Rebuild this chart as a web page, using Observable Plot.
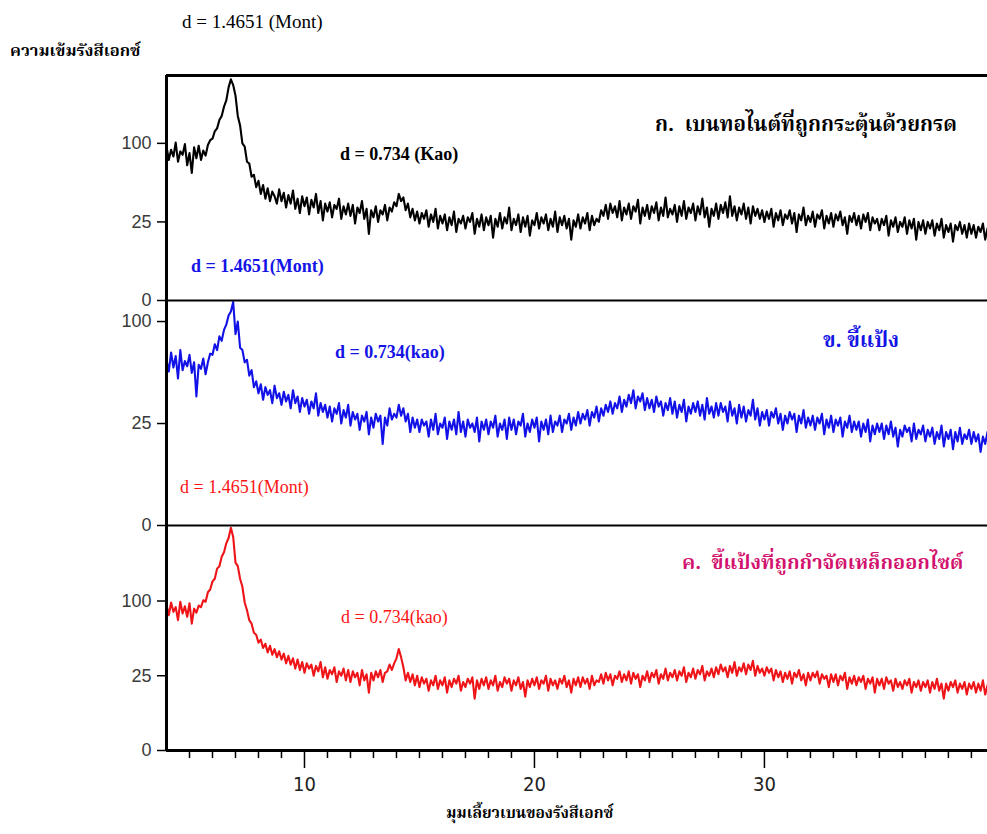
<!DOCTYPE html>
<html>
<head>
<meta charset="utf-8">
<script src="https://cdn.jsdelivr.net/npm/d3@7"></script>
<script src="https://cdn.jsdelivr.net/npm/@observablehq/plot@0.6"></script>
<style>
  body { margin: 0; background: #fff; }
  #wrap { position: relative; width: 987px; height: 834px; overflow: hidden; background: #fff; }
  .p { position: absolute; left: 0; }
  .t { position: absolute; white-space: nowrap; line-height: 1; }
  .serif { font-family: "Liberation Serif", "Times New Roman", serif; }
  .thai { font-family: "Noto Serif Thai", "Noto Sans Thai Looped", "Kinnari", "Norasi", "Noto Sans Thai", "Loma", "Garuda", "Tahoma", "DejaVu Sans", sans-serif; font-weight: bold; }
</style>
</head>
<body>
<div id="wrap">
  <div class="t serif" style="left:182px;top:12px;font-size:19px;color:#000;">d = 1.4651 (Mont)</div>
  <div class="t thai" style="left:10px;top:44px;font-size:16.5px;color:#000;">ความเข้มรังสีเอกซ์</div>
  <div class="t serif" style="left:340px;top:145px;font-size:18px;font-weight:bold;color:#000;">d = 0.734 (Kao)</div>
  <div class="t thai" style="left:655px;top:116px;font-size:20.6px;color:#000;">ก.&nbsp; เบนทอไนต์ที่ถูกกระตุ้นด้วยกรด</div>
  <div class="t serif" style="left:191px;top:257px;font-size:18px;font-weight:bold;color:#1414e6;">d = 1.4651(Mont)</div>
  <div class="t serif" style="left:335px;top:343px;font-size:18px;font-weight:bold;color:#1414e6;">d = 0.734(kao)</div>
  <div class="t thai" style="left:823px;top:331px;font-size:21px;color:#1414e6;">ข. ขี้แป้ง</div>
  <div class="t serif" style="left:180px;top:478px;font-size:18px;color:#ff1414;">d = 1.4651(Mont)</div>
  <div class="t thai" style="left:682px;top:554px;font-size:20px;color:#d2126e;">ค.&nbsp; ขี้แป้งที่ถูกกำจัดเหล็กออกไซด์</div>
  <div class="t serif" style="left:341px;top:608px;font-size:18px;color:#ff1414;">d = 0.734(kao)</div>
  <div class="t thai" style="left:446px;top:807px;font-size:15.5px;color:#000;">มุมเลี้ยวเบนของรังสีเอกซ์</div>
</div>
<script>
// scan grid (2θ, degrees): one row of ten values per degree
const angleStart = 4.0;
const angleStep = 0.1;
const angleEnd = 39.7;

// tick values
const yTicks = [0, 25, 100];
const xMajorTicks = [10, 20, 30];
const xMinorTicks = [5,6,7,8,9,11,12,13,14,15,16,17,18,19,21,22,23,24,25,26,27,28,29,31,32,33,34,35,36,37,38,39];

// ก. acid-activated bentonite (black)
const intensityA = [
  96, 80, 92, 84, 101, 78, 90, 86, 99, 74,
  88, 66, 95, 82, 97, 80, 91, 85, 98, 104,
  106, 116, 120, 132, 138, 152, 162, 184, 198, 188,
  170, 138, 124, 100, 96, 78, 76, 62, 64, 52,
  58, 46, 54, 42, 51, 40, 48, 44, 38, 50,
  40, 47, 35, 45, 38, 49, 34, 42, 31, 44,
  36, 43, 30, 41, 35, 46, 31, 40, 26, 38,
  32, 39, 28, 37, 34, 42, 27, 36, 30, 38,
  29, 37, 24, 35, 31, 40, 27, 34, 18, 33,
  28, 36, 25, 33, 30, 37, 26, 35, 32, 39,
  36, 46, 40, 43, 33, 38, 28, 34, 26, 32,
  24, 31, 27, 33, 22, 30, 25, 34, 21, 29,
  24, 30, 20, 28, 23, 32, 19, 27, 24, 29,
  21, 28, 25, 31, 18, 27, 22, 30, 20, 28,
  23, 29, 16, 27, 22, 31, 21, 28, 24, 35,
  20, 27, 23, 30, 19, 28, 22, 29, 17, 26,
  23, 31, 21, 28, 24, 30, 20, 27, 22, 32,
  19, 28, 23, 29, 21, 27, 15, 26, 22, 30,
  21, 28, 24, 31, 20, 29, 23, 27, 25, 33,
  29, 37, 27, 38, 31, 36, 28, 40, 26, 35,
  30, 38, 27, 36, 32, 41, 24, 35, 29, 37,
  27, 36, 31, 39, 26, 35, 29, 43, 28, 34,
  30, 37, 25, 36, 29, 40, 27, 35, 31, 38,
  26, 36, 30, 42, 28, 35, 22, 34, 29, 38,
  27, 37, 31, 39, 28, 44, 29, 36, 26, 35,
  30, 38, 27, 35, 24, 36, 29, 34, 27, 33,
  25, 32, 27, 34, 22, 31, 26, 33, 23, 30,
  27, 33, 24, 31, 19, 30, 26, 35, 23, 29,
  25, 32, 22, 30, 27, 33, 21, 29, 24, 31,
  22, 30, 26, 32, 23, 28, 18, 29, 25, 31,
  23, 29, 21, 30, 25, 31, 20, 28, 24, 27,
  20, 27, 23, 29, 17, 26, 22, 28, 19, 25,
  22, 28, 18, 26, 21, 27, 15, 25, 20, 26,
  18, 25, 21, 26, 17, 24, 20, 27, 16, 23,
  19, 24, 14, 23, 20, 25, 18, 23, 16, 24,
  18, 23, 16, 22, 19, 24, 15, 21
];

// ข. raw clay (blue)
const intensityB = [
  66, 57, 72, 60, 69, 52, 74, 58, 65, 61,
  70, 56, 64, 40, 62, 59, 67, 55, 64, 71,
  70, 79, 74, 86, 82, 92, 97, 106, 110, 120,
  88, 100, 76, 74, 64, 66, 54, 58, 46, 50,
  42, 48, 38, 46, 41, 44, 36, 47, 39, 42,
  35, 43, 37, 41, 33, 44, 36, 40, 31, 39,
  34, 38, 30, 37, 33, 42, 29, 36, 31, 35,
  28, 34, 26, 33, 30, 36, 25, 32, 28, 35,
  24, 31, 27, 30, 22, 29, 26, 31, 20, 28,
  23, 30, 26, 29, 16, 28, 24, 33, 27, 30,
  28, 35, 29, 33, 26, 30, 21, 28, 23, 27,
  21, 27, 24, 26, 19, 27, 22, 30, 20, 25,
  23, 28, 18, 26, 22, 27, 20, 31, 21, 26,
  19, 27, 23, 25, 21, 28, 17, 26, 22, 27,
  20, 26, 23, 29, 19, 25, 22, 27, 18, 28,
  22, 27, 20, 26, 24, 30, 19, 25, 21, 27,
  23, 28, 17, 26, 22, 27, 20, 29, 21, 26,
  24, 29, 21, 27, 25, 30, 22, 28, 24, 31,
  25, 30, 27, 32, 24, 31, 28, 34, 26, 33,
  29, 35, 31, 37, 30, 36, 33, 40, 31, 38,
  34, 41, 36, 44, 33, 40, 37, 42, 32, 39,
  33, 38, 31, 40, 34, 37, 29, 36, 32, 39,
  30, 37, 28, 35, 31, 38, 26, 34, 30, 36,
  31, 37, 29, 35, 27, 39, 30, 34, 28, 36,
  29, 36, 31, 34, 26, 37, 29, 33, 25, 35,
  28, 34, 26, 32, 29, 38, 27, 33, 24, 31,
  27, 32, 24, 31, 28, 33, 25, 30, 22, 29,
  25, 31, 27, 30, 21, 29, 25, 32, 23, 28,
  24, 29, 22, 28, 25, 30, 20, 27, 23, 29,
  21, 27, 24, 28, 19, 26, 23, 29, 21, 26,
  22, 26, 19, 25, 21, 27, 17, 24, 20, 25,
  21, 25, 18, 24, 20, 26, 19, 23, 15, 22,
  19, 24, 21, 23, 17, 25, 18, 22, 20, 24,
  17, 22, 19, 23, 16, 21, 18, 24, 15, 21,
  18, 22, 14, 21, 17, 23, 16, 20, 18, 22,
  16, 21, 17, 20, 13, 19, 16, 21
];

// ค. clay after iron-oxide removal (red)
const intensityC = [
  95, 82, 98, 86, 92, 76, 99, 84, 93, 80,
  97, 72, 90, 85, 94, 92, 101, 99, 112, 116,
  128, 132, 148, 152, 168, 176, 192, 202, 222, 204,
  158, 152, 132, 120, 98, 88, 76, 72, 62, 60,
  52, 55, 47, 51, 43, 49, 41, 46, 39, 44,
  37, 42, 34, 40, 33, 38, 30, 37, 29, 35,
  27, 34, 30, 33, 25, 32, 28, 35, 24, 31,
  23, 29, 26, 31, 21, 28, 25, 30, 22, 29,
  21, 28, 24, 27, 19, 29, 22, 26, 15, 27,
  22, 28, 24, 29, 21, 27, 28, 33, 29, 34,
  38, 46, 39, 31, 22, 27, 21, 26, 19, 25,
  18, 24, 20, 23, 16, 22, 19, 25, 17, 22,
  19, 24, 15, 22, 18, 23, 20, 25, 16, 21,
  18, 23, 20, 24, 12, 22, 17, 23, 19, 24,
  17, 22, 19, 25, 16, 21, 18, 24, 20, 23,
  16, 22, 19, 24, 17, 21, 13, 22, 18, 23,
  19, 24, 17, 22, 20, 25, 16, 23, 19, 22,
  17, 23, 20, 25, 18, 22, 15, 23, 19, 24,
  18, 24, 20, 23, 17, 25, 19, 22, 21, 26,
  20, 27, 22, 26, 19, 25, 23, 28, 21, 26,
  22, 28, 20, 27, 23, 26, 18, 25, 22, 28,
  21, 27, 24, 29, 20, 26, 23, 30, 22, 27,
  24, 29, 22, 28, 25, 31, 21, 27, 24, 30,
  23, 29, 26, 32, 22, 28, 25, 30, 24, 31,
  26, 33, 28, 31, 24, 32, 27, 35, 25, 31,
  28, 34, 26, 33, 29, 36, 25, 32, 27, 30,
  25, 31, 27, 30, 22, 29, 24, 28, 21, 27,
  23, 28, 20, 27, 24, 29, 22, 26, 19, 27,
  22, 27, 24, 28, 20, 26, 23, 25, 18, 26,
  21, 26, 19, 25, 22, 27, 17, 24, 20, 25,
  19, 24, 21, 25, 17, 23, 20, 24, 15, 23,
  19, 23, 17, 24, 20, 22, 16, 23, 18, 21,
  17, 22, 19, 23, 15, 21, 18, 22, 16, 21,
  18, 22, 15, 21, 17, 23, 16, 20, 12, 20,
  16, 21, 18, 22, 15, 20, 17, 21, 14, 20,
  17, 21, 15, 20, 16, 22, 14, 19
];

const panelMax = [205, 121.7, 226.5];
const panelColors = ["#000000", "#1212e8", "#ee1418"];

function toRows(values) {
  return values.map((v, i) => ({angle: angleStart + i * angleStep, intensity: v}));
}

function panel(values, color, yMax, withXAxis, topRule) {
  const marks = [
    Plot.axisY({ticks: yTicks, tickSize: 9, tickPadding: 6, fontSize: 18, fill: "#3a3a3a", stroke: "#000", strokeWidth: 1.5, label: null}),
    Plot.line(toRows(values), {x: "angle", y: "intensity", stroke: color, strokeWidth: 2.1}),
    Plot.ruleY([0], {stroke: "#000", strokeWidth: withXAxis ? 3 : 2}),
    Plot.ruleX([angleStart], {stroke: "#000", strokeWidth: 3})
  ];
  if (topRule) marks.push(Plot.ruleY([yMax], {stroke: "#000", strokeWidth: 3}));
  if (withXAxis) {
    marks.push(Plot.axisX({ticks: xMinorTicks, tickSize: 8, tickFormat: () => "", stroke: "#000", strokeWidth: 1.5, label: null}));
    marks.push(Plot.axisX({ticks: xMajorTicks, tickSize: 18, tickPadding: 8, fontSize: 20, fill: "#222", stroke: "#000", strokeWidth: 1.5, label: null,
      fontFamily: "'Liberation Sans Narrow', 'DejaVu Sans Condensed', sans-serif"}));
  }
  return Plot.plot({
    width: 987,
    height: withXAxis ? 287 : 249,
    marginLeft: 166, marginRight: 0, marginTop: 12, marginBottom: withXAxis ? 50 : 12,
    x: {domain: [angleStart, angleEnd], label: null, axis: withXAxis ? undefined : null},
    y: {type: "sqrt", domain: [0, yMax], label: null},
    style: {background: "transparent", overflow: "visible", fontFamily: "'Liberation Sans', Arial, sans-serif"},
    marks
  });
}

const wrap = document.getElementById("wrap");
const tops = [63, 288, 513];
const series = [intensityA, intensityB, intensityC];
series.forEach((vals, k) => {
  const svg = panel(vals, panelColors[k], panelMax[k], k === 2, k === 0);
  svg.classList.add("p");
  svg.style.top = tops[k] + "px";
  svg.style.position = "absolute";
  wrap.insertBefore(svg, wrap.firstChild);
});
</script>
</body>
</html>
